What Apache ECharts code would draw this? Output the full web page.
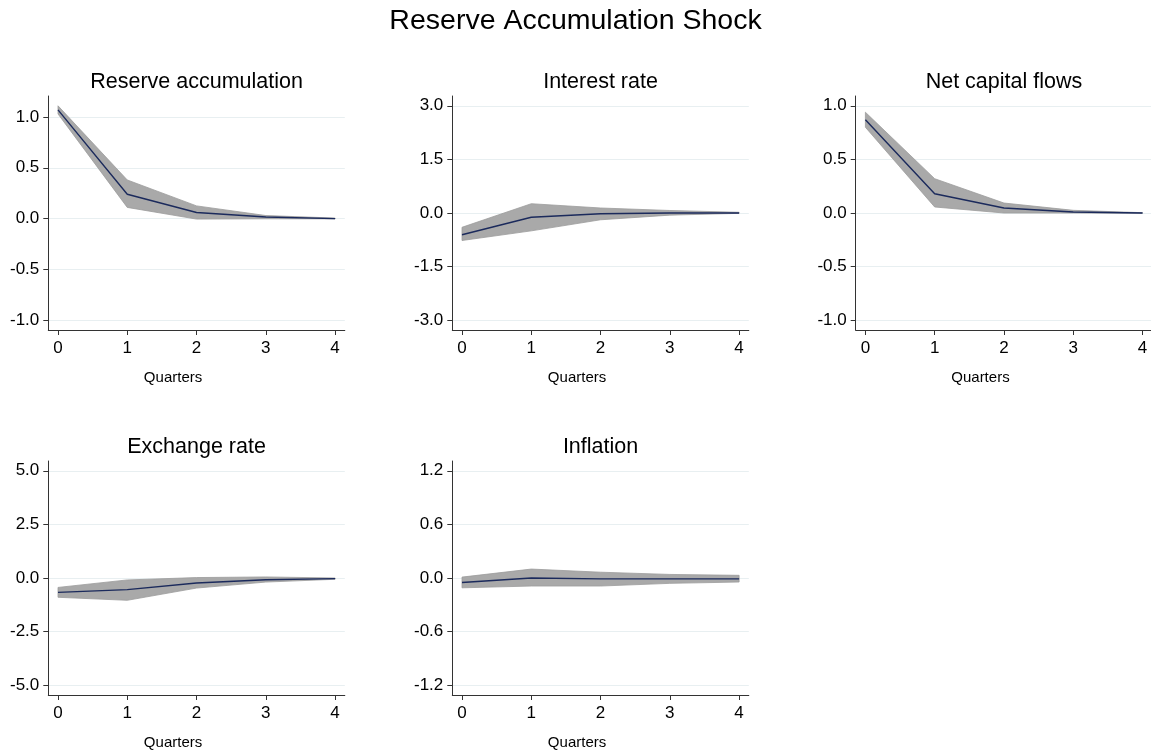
<!DOCTYPE html>
<html>
<head>
<meta charset="utf-8">
<title>Reserve Accumulation Shock</title>
<script src="https://cdn.jsdelivr.net/npm/echarts@6.0.0/dist/echarts.min.js"></script>
<style>
  html, body { margin: 0; padding: 0; background: #fff; }
  #chart { width: 1151px; height: 751px; }
</style>
</head>
<body>
<div id="chart"></div>
<script>
'use strict';

var quarters = [0, 1, 2, 3, 4];

// impulse responses and their bands
var reserveIrf = [1.07, 0.24, 0.06, 0.015, 0.0];
var reserveLower = [1.03, 0.11, -0.005, -0.002, -0.003];
var reserveUpper = [1.11, 0.38, 0.125, 0.03, 0.005];
var reserveTicks = [-1.0, -0.5, 0.0, 0.5, 1.0];

var interestIrf = [-0.61, -0.12, -0.02, 0.0, 0.0];
var interestLower = [-0.77, -0.50, -0.19, -0.06, -0.01];
var interestUpper = [-0.40, 0.26, 0.14, 0.07, 0.02];
var interestTicks = [-3.0, -1.5, 0.0, 1.5, 3.0];

var capflowIrf = [0.87, 0.18, 0.047, 0.01, 0.0];
var capflowLower = [0.80, 0.056, 0.0, 0.0, -0.002];
var capflowUpper = [0.94, 0.32, 0.093, 0.025, 0.003];
var capflowTicks = [-1.0, -0.5, 0.0, 0.5, 1.0];

var exchangeIrf = [-0.67, -0.54, -0.23, -0.08, -0.03];
var exchangeLower = [-0.90, -1.04, -0.47, -0.19, -0.06];
var exchangeUpper = [-0.44, -0.09, 0.02, 0.05, 0.0];
var exchangeTicks = [-5.0, -2.5, 0.0, 2.5, 5.0];

var inflationIrf = [-0.05, 0.0, -0.01, -0.01, -0.01];
var inflationLower = [-0.11, -0.09, -0.09, -0.06, -0.045];
var inflationUpper = [0.01, 0.10, 0.065, 0.04, 0.03];
var inflationTicks = [-1.2, -0.6, 0.0, 0.6, 1.2];

var panels = [
  {title: 'Reserve accumulation', irf: reserveIrf, lower: reserveLower, upper: reserveUpper, ticks: reserveTicks},
  {title: 'Interest rate', irf: interestIrf, lower: interestLower, upper: interestUpper, ticks: interestTicks},
  {title: 'Net capital flows', irf: capflowIrf, lower: capflowLower, upper: capflowUpper, ticks: capflowTicks},
  {title: 'Exchange rate', irf: exchangeIrf, lower: exchangeLower, upper: exchangeUpper, ticks: exchangeTicks},
  {title: 'Inflation', irf: inflationIrf, lower: inflationLower, upper: inflationUpper, ticks: inflationTicks}
];

var FONT = '"Liberation Sans", Arial, Helvetica, sans-serif';
var colLeft = [48.3, 452.3, 855.7];
var rowTop = [96, 461];
var plotW = 296.5;
var plotH = 234;
var axisColor = '#333';

var option = {
  animation: false,
  backgroundColor: '#fff',
  title: [{
    text: 'Reserve Accumulation Shock',
    left: 575.5,
    top: 6.5,
    textAlign: 'center',
    padding: 0,
    textStyle: {fontFamily: FONT, fontSize: 28.5, fontWeight: 'normal', color: '#000'}
  }],
  grid: [],
  xAxis: [],
  yAxis: [],
  series: []
};

panels.forEach(function (p, k) {
  var left = colLeft[k % 3];
  var top = rowTop[Math.floor(k / 3)];

  // stata pads the plot region by ~10px on each side
  var lo = Math.min(p.ticks[0], Math.min.apply(null, p.lower));
  var hi = Math.max(p.ticks[p.ticks.length - 1], Math.max.apply(null, p.upper));
  var pad = (hi - lo) * 9.8 / (plotH - 19.6);
  var xpad = 4 * 9.7 / (plotW - 19.4);

  option.grid.push({
    left: left, top: top, width: plotW, height: plotH,
    containLabel: false, outerBoundsMode: 'none'
  });

  option.title.push({
    text: p.title,
    left: left + plotW / 2,
    top: top - 24.5,
    textAlign: 'center',
    padding: 0,
    textStyle: {fontFamily: FONT, fontSize: 21.5, fontWeight: 'normal', color: '#000'}
  });

  option.xAxis.push({
    type: 'value',
    gridIndex: k,
    min: -xpad,
    max: 4 + xpad,
    name: 'Quarters',
    nameLocation: 'middle',
    nameGap: 40,
    nameTextStyle: {fontFamily: FONT, fontSize: 15, color: '#000', padding: [0, 47, 0, 0]},
    axisLine: {show: true, onZero: false, lineStyle: {color: axisColor, width: 1}},
    axisTick: {show: true, customValues: quarters, length: 5, lineStyle: {color: axisColor, width: 1}},
    axisLabel: {customValues: quarters, fontFamily: FONT, fontSize: 17, color: '#000', margin: 10},
    splitLine: {show: false}
  });

  option.yAxis.push({
    type: 'value',
    gridIndex: k,
    min: lo - pad,
    max: hi + pad,
    axisLine: {show: true, onZero: false, lineStyle: {color: axisColor, width: 1}},
    axisTick: {show: true, customValues: p.ticks, length: 5, lineStyle: {color: axisColor, width: 1}},
    axisLabel: {
      customValues: p.ticks,
      fontFamily: FONT, fontSize: 17, color: '#000', margin: 9,
      formatter: function (v) { return v.toFixed(1); }
    },
    splitLine: {show: true, lineStyle: {color: '#e8eff1', width: 1}}
  });

  // shaded band between lower and upper
  option.series.push({
    type: 'custom',
    xAxisIndex: k,
    yAxisIndex: k,
    silent: true,
    z: 1,
    data: quarters.map(function (q, i) { return [q, p.lower[i], p.upper[i]]; }),
    encode: {x: 0, y: [1, 2]},
    renderItem: function (params, api) {
      if (params.dataIndex !== 0) return null;
      var pts = [];
      quarters.forEach(function (q, i) { pts.push(api.coord([q, p.upper[i]])); });
      for (var i = quarters.length - 1; i >= 0; i--) {
        pts.push(api.coord([quarters[i], p.lower[i]]));
      }
      return {
        type: 'polygon',
        shape: {points: pts},
        style: {fill: '#a9a9a9', stroke: '#9c9c9c', lineWidth: 0.8}
      };
    }
  });

  option.series.push({
    type: 'line',
    xAxisIndex: k,
    yAxisIndex: k,
    silent: true,
    z: 2,
    symbol: 'none',
    data: quarters.map(function (q, i) { return [q, p.irf[i]]; }),
    lineStyle: {color: '#1b2a5c', width: 1.4}
  });
});

var chart = echarts.init(document.getElementById('chart'));
chart.setOption(option);
</script>
</body>
</html>
